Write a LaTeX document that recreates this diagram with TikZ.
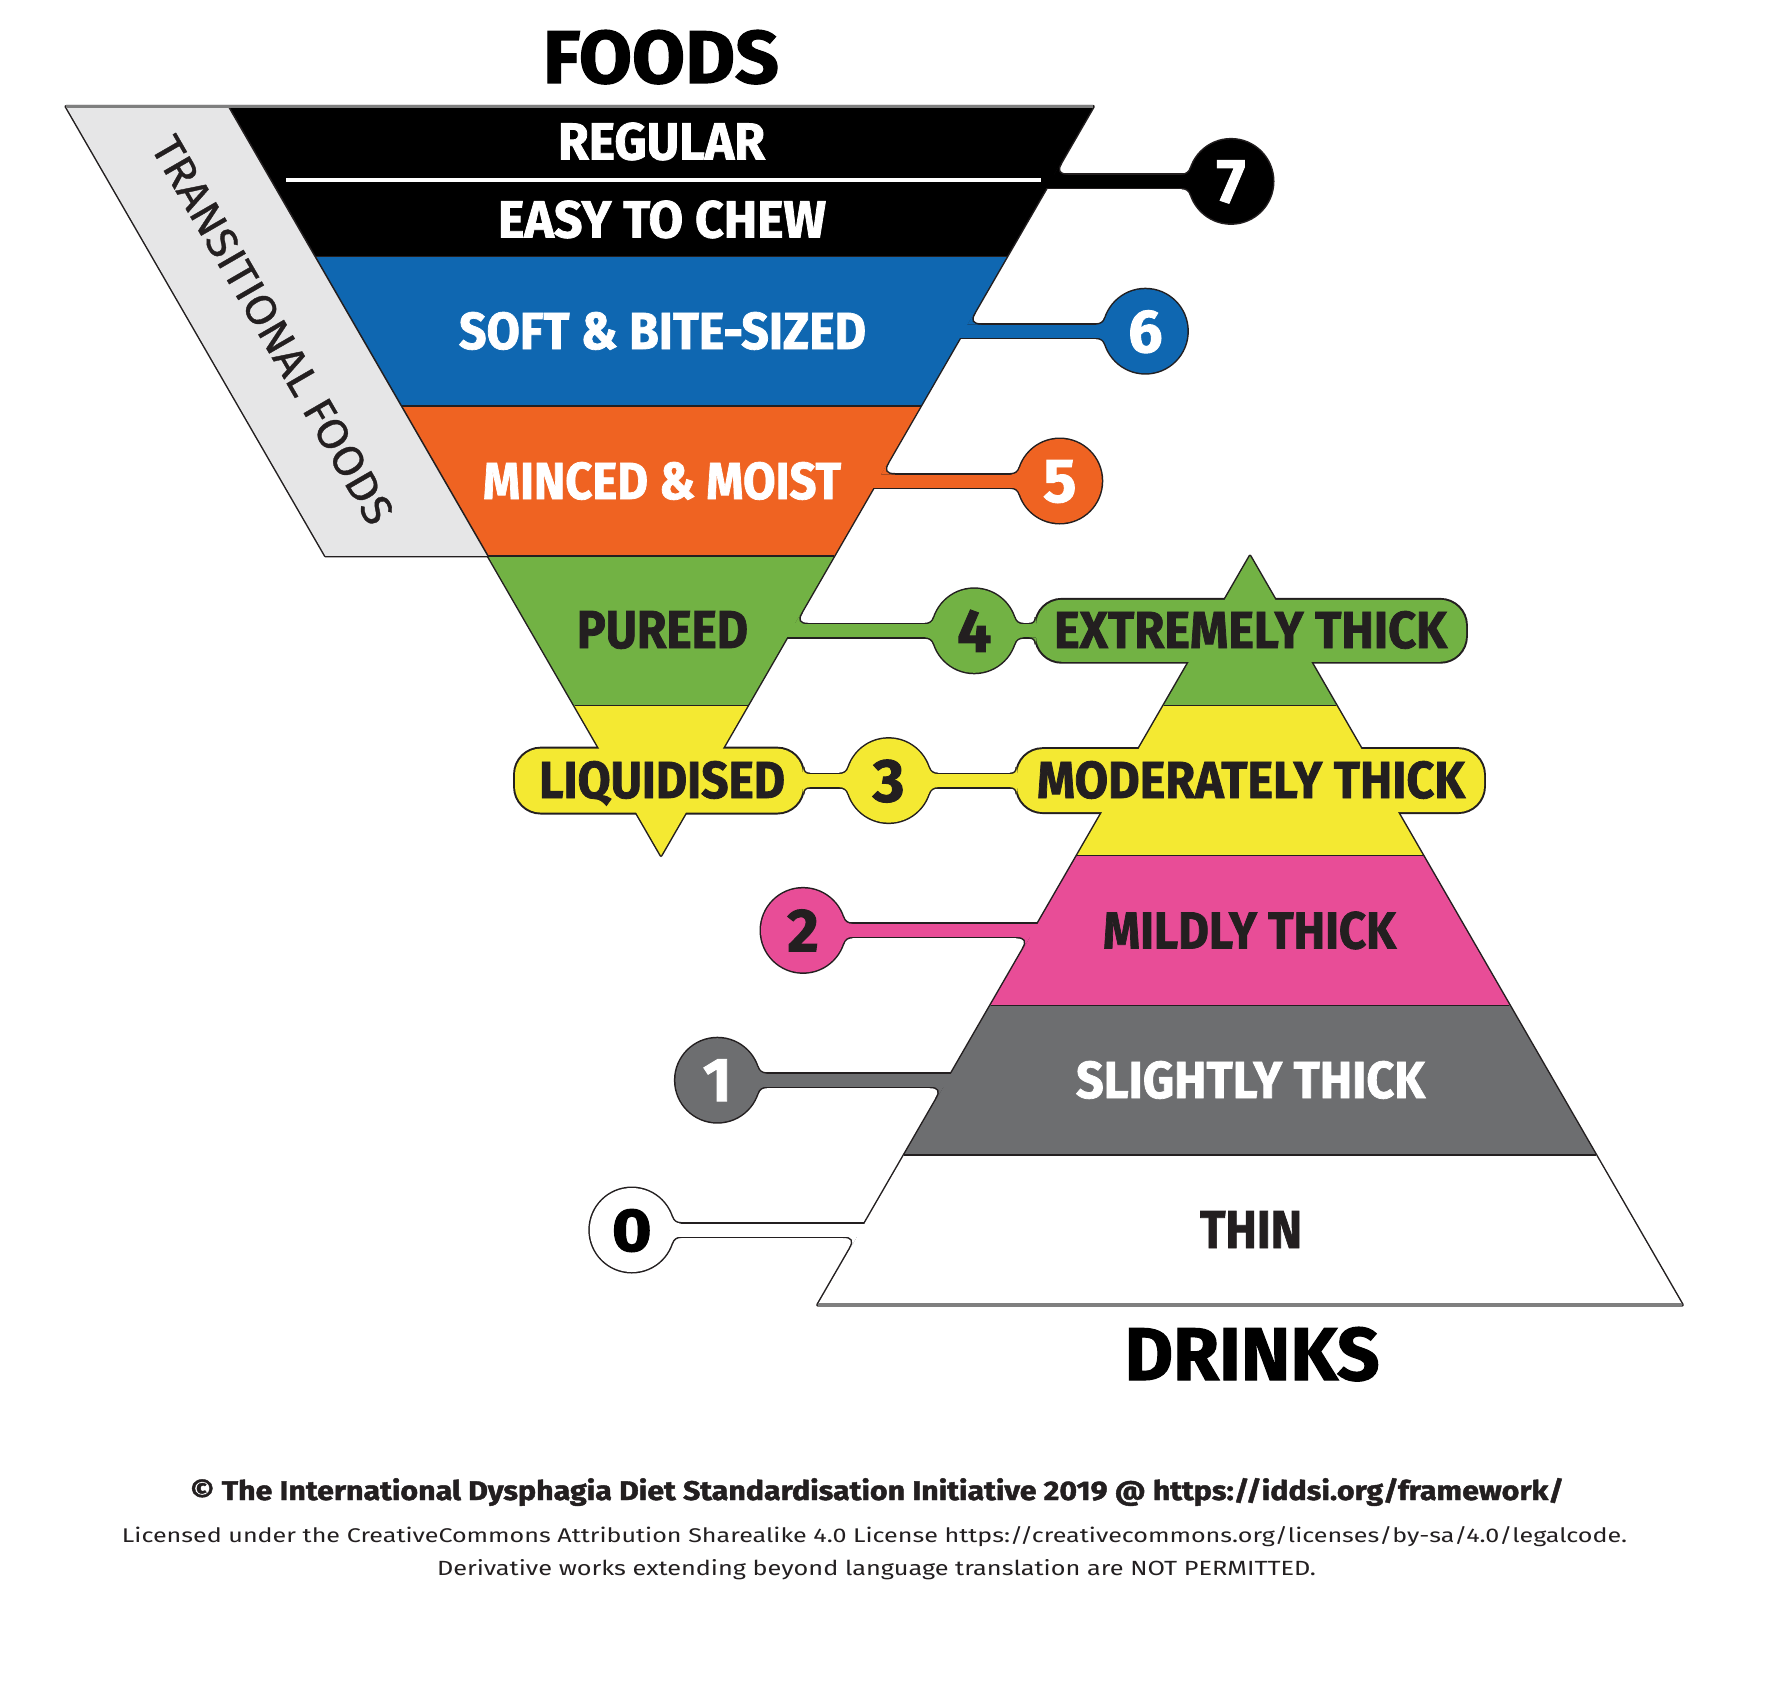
\documentclass[tikz,border=0pt]{standalone}
\usepackage{fontspec}
\setmainfont{Fira Sans}[BoldFeatures={FakeBold=1.5}]
\usepackage{graphicx}
\newlength\pxu
\setlength\pxu{0.5pt}
\newcommand{\fitbox}[3]{\resizebox{#1\pxu}{#2\pxu}{#3}}
\definecolor{lc}{HTML}{231F20}
\definecolor{txt}{HTML}{231F20}
\definecolor{cblk}{HTML}{000000}
\definecolor{cblue}{HTML}{0F67B1}
\definecolor{corange}{HTML}{EF6322}
\definecolor{cgreen}{HTML}{72B244}
\definecolor{cyellow}{HTML}{F4E932}
\definecolor{cpink}{HTML}{E84D97}
\definecolor{cgray}{HTML}{6D6E70}
\definecolor{ctrans}{HTML}{E6E6E7}
\definecolor{edgegray}{HTML}{7F7F7F}
\pgfdeclarelayer{bg}
\pgfdeclarelayer{outl}
\pgfdeclarelayer{fills}
\pgfsetlayers{bg,outl,fills,main}
\tikzset{
  outl/.style={draw=lc, line width=1.5pt, line join=round},
  barout/.style={draw=lc, line width=8pt},
  barfill/.style={line width=6.5pt},
  numc/.style={circle, minimum size=42pt, inner sep=0pt, text depth=0pt, font=\bfseries},
  pill/.style={rounded corners=13pt, inner sep=0pt},
  lab/.style={inner sep=0pt, text depth=0pt, font=\bfseries},
  sepline/.style={draw=lc, line width=0.75pt},
  foot/.style={inner sep=0pt, anchor=base, text=txt}
}
% fillet geometry (pixel units)
\def\hb{6.5}
\def\rf{10}
\def\Rc{42}
\def\de{13.86}
\def\rp{7}
% #1,#2 corner (control) ; #3,#4 Ta ; #5,#6 Tb ; #7,#8 inner point ; #9 colour
\newcommand{\cornerfil}[9]{%
  \pgfmathsetmacro{\cax}{(#3)+2/3*((#1)-(#3))}%
  \pgfmathsetmacro{\cay}{(#4)+2/3*((#2)-(#4))}%
  \pgfmathsetmacro{\cbx}{(#5)+2/3*((#1)-(#5))}%
  \pgfmathsetmacro{\cby}{(#6)+2/3*((#2)-(#6))}%
  \begin{pgfonlayer}{fills}
  \fill[#9] ({#7},{#8}) -- ({#3},{#4}) .. controls ({\cax},{\cay}) and ({\cbx},{\cby}) .. ({#5},{#6}) -- cycle;
  \end{pgfonlayer}
  \begin{pgfonlayer}{outl}
  \draw[outl] ({#3},{#4}) .. controls ({\cax},{\cay}) and ({\cbx},{\cby}) .. ({#5},{#6});
  \end{pgfonlayer}}
% circle fillet: Cx Cy sx sy colour
\newcommand{\cfil}[5]{%
  \pgfmathsetmacro{\fdx}{sqrt((\Rc+\rf)^2-(\hb+\rf)^2)}%
  \pgfmathsetmacro{\tax}{#1+(#3)*\fdx}%
  \pgfmathsetmacro{\tay}{#2+(#4)*\hb}%
  \pgfmathsetmacro{\tbx}{#1+(#3)*\fdx*\Rc/(\Rc+\rf)}%
  \pgfmathsetmacro{\tby}{#2+(#4)*(\hb+\rf)*\Rc/(\Rc+\rf)}%
  \pgfmathsetmacro{\kx}{\tbx-(\tay-\tby)*((#4)*(\hb+\rf))/((#3)*\fdx)}%
  \cornerfil{\kx}{\tay}{\tax}{\tay}{\tbx}{\tby}{#1}{#2}{#5}}
\newcommand{\cfilboth}[4]{\cfil{#1}{#2}{#3}{-1}{#4}\cfil{#1}{#2}{#3}{1}{#4}}
% foods right edge fillet (above bar)
\newcommand{\efood}[2]{%
  \pgfmathsetmacro{\yo}{#1-\hb}%
  \pgfmathsetmacro{\xo}{661+(855.5-\yo)*0.57735}%
  \pgfmathsetmacro{\eax}{\xo+\de}%
  \pgfmathsetmacro{\ebx}{\xo+0.5*\de}%
  \pgfmathsetmacro{\eby}{\yo-0.866*\de}%
  \cornerfil{\xo}{\yo}{\eax}{\yo}{\ebx}{\eby}{\xo}{\yo}{#2}}
% drinks left edge fillet (below bar)
\newcommand{\edrink}[2]{%
  \pgfmathsetmacro{\yo}{#1+\hb}%
  \pgfmathsetmacro{\xo}{1250-(\yo-556)*0.57735}%
  \pgfmathsetmacro{\eax}{\xo-\de}%
  \pgfmathsetmacro{\ebx}{\xo-0.5*\de}%
  \pgfmathsetmacro{\eby}{\yo+0.866*\de}%
  \cornerfil{\xo}{\yo}{\eax}{\yo}{\ebx}{\eby}{\xo}{\yo}{#2}}
% pill end fillets: xe yc sx colour
\newcommand{\pfil}[4]{%
  \pgfmathsetmacro{\pyo}{#2-\hb}%
  \pgfmathsetmacro{\pyp}{#2+\hb}%
  \pgfmathsetmacro{\pax}{#1+(#3)*\rp}%
  \pgfmathsetmacro{\pby}{\pyo-\rp}%
  \pgfmathsetmacro{\pbyb}{\pyp+\rp}%
  \cornerfil{#1}{\pyo}{\pax}{\pyo}{#1}{\pby}{#1}{\pyo}{#4}%
  \cornerfil{#1}{\pyp}{\pax}{\pyp}{#1}{\pbyb}{#1}{\pyp}{#4}}
\begin{document}
\begin{tikzpicture}[x=0.5pt,y=-0.5pt]
\begin{pgfonlayer}{bg}
\fill[white] (0,0) rectangle (1771,1691);
\end{pgfonlayer}
\useasboundingbox (0,0) rectangle (1771,1691);

% ---------- band entry coordinates ----------
\coordinate (b7) at (661,181.4);
\coordinate (b6) at (661,331.2);
\coordinate (b5) at (661,481);
\coordinate (b4) at (661,630.8);
\coordinate (b2) at (1250,930.4);
\coordinate (b1) at (1250,1080.2);
\coordinate (b0) at (1250,1230);

% ---------- pills ----------
\node[pill, fill=cyellow, minimum width=144pt, minimum height=32pt] (liq) at (659,780.6) {};
\node[pill, fill=cgreen, minimum width=215pt, minimum height=31pt] (ext) at (1251,630.8) {};
\node[pill, fill=cyellow, minimum width=233.5pt, minimum height=31.5pt] (mod) at (1250.5,780.6) {};

% ---------- number circles ----------
\node[numc, fill=cblk, text=white] (n7) at (1231,181.4) {\resizebox{!}{42\pxu}{7}};
\node[numc, fill=cblue, text=white] (n6) at (1145.4,331.2) {\resizebox{!}{42\pxu}{6}};
\node[numc, fill=corange, text=white] (n5) at (1059.8,481) {\resizebox{!}{42\pxu}{5}};
\node[numc, fill=cgreen, text=txt] (n4) at (974.2,630.8) {\resizebox{!}{42\pxu}{4}};
\node[numc, fill=cyellow, text=txt] (n3) at (888.6,780.6) {\resizebox{!}{42\pxu}{3}};
\node[numc, fill=cpink, text=txt] (n2) at (803,930.4) {\resizebox{!}{42\pxu}{2}};
\node[numc, fill=cgray, text=white] (n1) at (717.4,1080.2) {\resizebox{!}{42\pxu}{1}};
\node[numc, fill=white, text=black] (n0) at (631.8,1230) {\resizebox{40\pxu}{42\pxu}{0}};

% ---------- outlines ----------
\begin{pgfonlayer}{outl}
\draw[outl] (228.6,106.5) -- (1093.4,106.5) -- (661,855.5) -- cycle;
\draw[outl] (1250,556) -- (1682.4,1305) -- (817.6,1305) -- cycle;
\draw[outl] (66,106.5) -- (228.6,106.5) -- (488,555.9) -- (325.4,555.9) -- cycle;
\foreach \k in {0,...,7} \draw[outl] (n\k.center) circle (42);
\draw[outl, rounded corners=13pt] (liq.north west) rectangle (liq.south east);
\draw[outl, rounded corners=13pt] (ext.north west) rectangle (ext.south east);
\draw[outl, rounded corners=13pt] (mod.north west) rectangle (mod.south east);
\draw[barout] (b7) -- (n7.center);
\draw[barout] (b6) -- (n6.center);
\draw[barout] (b5) -- (n5.center);
\draw[barout] (b4) -- (n4.center) -- (ext.center);
\draw[barout] (liq.center) -- (n3.center) -- (mod.center);
\draw[barout] (b2) -- (n2.center);
\draw[barout] (b1) -- (n1.center);
\draw[barout] (b0) -- (n0.center);
\end{pgfonlayer}

% ---------- fills ----------
\begin{pgfonlayer}{fills}
\fill[ctrans] (66,106.5) -- (228.6,106.5) -- (488,555.9) -- (325.4,555.9) -- cycle;
\fill[cblk] (228.6,106.5) -- (1093.4,106.5) -- (1006.9,256.3) -- (315.1,256.3) -- cycle;
\fill[cblue] (315.1,256.3) -- (1006.9,256.3) -- (920.5,406.1) -- (401.5,406.1) -- cycle;
\fill[corange] (401.5,406.1) -- (920.5,406.1) -- (834,555.9) -- (488,555.9) -- cycle;
\fill[cgreen] (488,555.9) -- (834,555.9) -- (747.5,705.7) -- (574.5,705.7) -- cycle;
\fill[cyellow] (574.5,705.7) -- (747.5,705.7) -- (661,855.5) -- cycle;
\fill[cgreen] (1250,556) -- (1336.4,705.7) -- (1163.6,705.7) -- cycle;
\fill[cyellow] (1163.6,705.7) -- (1336.4,705.7) -- (1422.9,855.5) -- (1077.1,855.5) -- cycle;
\fill[cpink] (1077.1,855.5) -- (1422.9,855.5) -- (1509.4,1005.3) -- (990.6,1005.3) -- cycle;
\fill[cgray] (990.6,1005.3) -- (1509.4,1005.3) -- (1595.9,1155.1) -- (904.1,1155.1) -- cycle;
\fill[white] (904.1,1155.1) -- (1595.9,1155.1) -- (1682.4,1305) -- (817.6,1305) -- cycle;
\draw[barfill, cblk] (b7) -- (n7.center);
\draw[barfill, cblue] (b6) -- (n6.center);
\draw[barfill, corange] (b5) -- (n5.center);
\draw[barfill, cgreen] (b4) -- (n4.center) -- (ext.center);
\draw[barfill, cyellow] (liq.center) -- (n3.center) -- (mod.center);
\draw[barfill, cpink] (b2) -- (n2.center);
\draw[barfill, cgray] (b1) -- (n1.center);
\draw[barfill, white] (b0) -- (n0.center);
\end{pgfonlayer}

% ---------- fillets at the joints ----------
\cfilboth{1231}{181.4}{-1}{cblk}
\cfilboth{1145.4}{331.2}{-1}{cblue}
\cfilboth{1059.8}{481}{-1}{corange}
\cfilboth{974.2}{630.8}{-1}{cgreen}
\cfilboth{974.2}{630.8}{1}{cgreen}
\cfilboth{888.6}{780.6}{-1}{cyellow}
\cfilboth{888.6}{780.6}{1}{cyellow}
\cfilboth{803}{930.4}{1}{cpink}
\cfilboth{717.4}{1080.2}{1}{cgray}
\cfilboth{631.8}{1230}{1}{white}
\efood{181.4}{cblk}
\efood{331.2}{cblue}
\efood{481}{corange}
\efood{630.8}{cgreen}
\edrink{930.4}{cpink}
\edrink{1080.2}{cgray}
\edrink{1230}{white}
\pfil{803}{780.6}{1}{cyellow}
\pfil{1017}{780.6}{-1}{cyellow}
\pfil{1036}{630.8}{-1}{cgreen}

% ---------- separators and edges ----------
\draw[sepline] (228.6,106.5) -- (488,555.9);
\draw[sepline] (315.1,256.3) -- (1006.9,256.3);
\draw[sepline] (401.5,406.1) -- (920.5,406.1);
\draw[sepline] (488,555.9) -- (834,555.9);
\draw[sepline] (574.5,705.7) -- (747.5,705.7);
\draw[sepline] (1163.6,705.7) -- (1336.4,705.7);
\draw[sepline] (1077.1,855.5) -- (1422.9,855.5);
\draw[sepline] (990.6,1005.3) -- (1509.4,1005.3);
\draw[sepline] (904.1,1155.1) -- (1595.9,1155.1);
\draw[white, line width=2pt] (286,180) -- (1041,180);
\draw[edgegray, line width=1.5pt] (66,106.5) -- (1093.4,106.5);
\draw[edgegray, line width=2pt] (817.6,1305) -- (1682.4,1305);

% ---------- labels ----------
\node[lab, text=white] (lreg) at (661.5,141) {\fitbox{207}{37}{REGULAR}};
\node[lab, text=white] (leasy) at (662,219) {\fitbox{328}{37}{EASY TO CHEW}};
\node[lab, text=white] (lsoft) at (662.5,330.5) {\fitbox{407}{37}{SOFT \& BITE-SIZED}};
\node[lab, text=white] (lmin) at (662,480.5) {\fitbox{358}{37}{MINCED \& MOIST}};
\node[lab, text=txt] (lpur) at (662.5,629.5) {\fitbox{171}{37}{PUREED}};
\node[lab, text=txt] (lliq) at (662,779.5) {\fitbox{246}{37}{LIQUIDISED}};
\node[lab, text=txt] (lext) at (1250.5,629.5) {\fitbox{393}{37}{EXTREMELY THICK}};
\node[lab, text=txt] (lmod) at (1251,779.5) {\fitbox{428}{37}{MODERATELY THICK}};
\node[lab, text=txt] (lmild) at (1249.5,930) {\fitbox{293}{37}{MILDLY THICK}};
\node[lab, text=white] (lsli) at (1250.5,1079.5) {\fitbox{349}{37}{SLIGHTLY THICK}};
\node[lab, text=txt] (lthin) at (1251,1229.5) {\fitbox{102}{37}{THIN}};
\node[lab, text=black] (foods) at (661,56.5) {\fitbox{236}{53}{FOODS}};
\node[lab, text=black] (drinks) at (1252,1353.5) {\fitbox{255}{53}{DRINKS}};
\node[inner sep=0pt, text depth=0pt, rotate=-60, text=txt] (trans) at (273,330) {\fitbox{440}{30}{\addfontfeature{FakeBold=0.8}TRANSITIONAL FOODS}};

% ---------- footer ----------
\node[foot] (f1) at (877,1500) {\fitbox{1374}{22}{\bfseries © The International Dysphagia Diet Standardisation Initiative 2019 @ https://iddsi.org/framework/}};
\node[foot] (f2) at (874.5,1542) {\fitbox{1505}{16}{Licensed under the CreativeCommons Attribution Sharealike 4.0 License https://creativecommons.org/licenses/by-sa/4.0/legalcode.}};
\node[foot] (f3) at (876.5,1575.5) {\fitbox{879}{16}{Derivative works extending beyond language translation are NOT PERMITTED.}};
\end{tikzpicture}
\end{document}
